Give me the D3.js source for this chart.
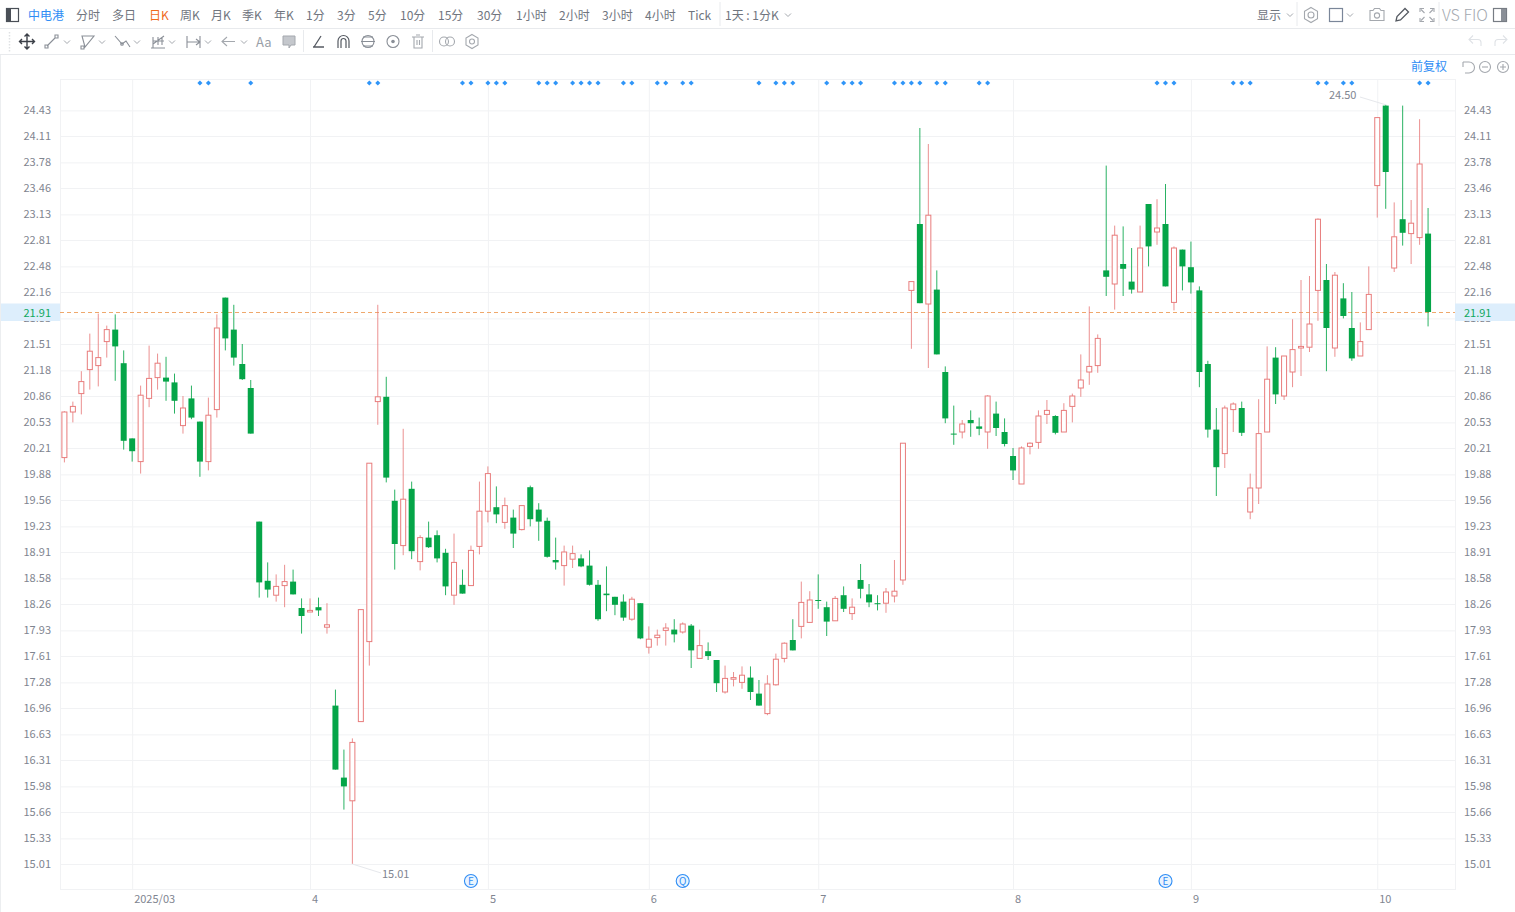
<!DOCTYPE html>
<html><head><meta charset="utf-8">
<script src="https://cdn.jsdelivr.net/npm/d3@7/dist/d3.min.js"></script>
<style>
html,body{margin:0;padding:0;background:#fff;overflow:hidden}
svg{display:block}
text{font-family:"Noto Sans CJK SC","Noto Sans",sans-serif}
</style></head><body>
<svg id="c" width="1515" height="912"></svg>
<script>
const open=[
20.09,20.66,20.89,21.19,21.24,21.54,21.69,21.27,20.33,20.04,
20.83,21.09,21.09,21.03,20.49,20.83,20.54,20.04,20.69,22.09,
21.69,21.26,20.96,19.29,18.55,18.37,18.49,18.54,18.21,18.16,
18.22,17.97,16.99,16.09,15.80,16.79,17.79,20.79,20.85,19.55,
18.99,19.70,18.79,19.09,19.12,18.90,18.37,18.50,18.49,18.98,
19.42,19.47,19.28,19.34,19.19,19.72,19.44,19.30,18.81,18.74,
18.82,18.83,18.74,18.50,18.39,18.35,18.29,18.07,18.27,17.72,
17.84,17.93,17.94,17.91,17.99,17.58,17.67,17.56,17.16,17.32,
17.28,17.34,17.14,16.89,17.25,17.58,17.81,17.98,18.03,18.31,
18.22,18.05,18.37,18.14,18.56,18.38,18.27,18.27,18.36,18.56,
22.18,23.01,22.01,22.19,21.16,20.39,20.41,20.56,20.48,20.41,
20.64,20.41,20.11,19.76,20.23,20.28,20.63,20.61,20.41,20.73,
20.96,21.16,21.24,22.43,22.26,22.51,22.29,22.16,23.26,22.91,
23.01,22.03,22.69,22.47,22.18,21.26,20.44,20.14,20.69,20.71,
19.41,19.71,20.41,21.34,20.86,21.16,21.46,21.47,22.18,22.31,
21.46,22.08,21.71,21.36,21.69,23.49,24.49,22.46,23.07,22.89,
22.84,22.89];
const close=[
20.66,20.73,21.04,21.42,21.34,21.69,21.48,20.30,20.17,20.87,
21.08,21.27,21.04,20.80,20.71,20.59,20.04,20.62,21.71,21.58,
21.34,21.07,20.39,18.53,18.44,18.48,18.54,18.38,18.11,18.18,
18.18,18.00,16.19,15.98,16.53,18.19,20.02,20.85,19.84,19.01,
19.57,18.92,19.09,18.97,18.83,18.48,18.78,18.39,18.93,19.42,
19.89,19.38,19.49,19.14,19.49,19.32,19.29,18.85,18.78,18.91,
18.89,18.73,18.50,18.07,18.37,18.25,18.09,18.32,17.83,17.82,
17.87,17.96,17.88,18.01,17.68,17.74,17.61,17.27,17.33,17.34,
17.37,17.16,16.99,17.26,17.57,17.77,17.68,18.28,18.31,18.30,
18.04,18.33,18.20,18.22,18.45,18.28,18.26,18.41,18.42,20.27,
22.29,22.02,23.12,21.38,20.58,20.38,20.51,20.52,20.45,20.86,
20.46,20.26,19.93,20.21,20.27,20.61,20.68,20.40,20.68,20.86,
21.06,21.23,21.58,22.35,22.87,22.45,22.19,22.71,22.73,22.96,
22.23,22.71,22.48,22.28,21.16,20.44,19.97,20.71,20.76,20.40,
19.71,20.39,21.07,20.88,21.36,21.44,21.48,21.76,23.07,21.71,
22.37,21.86,21.33,21.54,22.13,24.34,23.66,22.85,22.90,23.02,
23.76,21.91];
const high=[
20.67,20.79,21.17,21.64,21.89,21.74,21.88,21.43,20.33,20.99,
21.49,21.39,21.35,21.14,20.86,20.99,20.54,20.84,21.88,22.09,
22.00,21.51,21.06,19.29,18.78,18.63,18.75,18.69,18.33,18.33,
18.34,18.27,17.19,16.44,16.58,18.19,20.02,22.00,21.10,19.69,
20.45,19.79,19.12,19.29,19.18,18.95,19.14,18.69,18.99,19.79,
19.98,19.73,19.59,19.44,19.49,19.74,19.52,19.34,19.09,18.99,
18.99,18.88,18.93,18.56,18.73,18.35,18.38,18.35,18.27,17.98,
17.94,18.02,18.07,18.03,18.01,17.94,17.78,17.56,17.49,17.41,
17.48,17.48,17.31,17.37,17.64,17.78,18.07,18.54,18.42,18.63,
18.29,18.36,18.48,18.33,18.76,18.51,18.37,18.46,18.81,20.27,
22.29,24.21,24.01,22.43,21.23,20.74,20.56,20.68,20.59,20.87,
20.79,20.58,20.21,20.23,20.28,20.68,20.81,20.62,20.77,20.89,
21.38,21.98,21.63,23.74,22.99,22.98,22.71,22.99,23.26,23.32,
23.51,22.73,22.69,22.79,22.23,21.30,20.71,20.74,20.78,20.79,
19.89,20.82,21.48,21.47,21.36,21.82,22.31,22.36,23.08,22.51,
22.41,22.27,22.16,21.78,22.48,24.34,24.50,23.28,24.49,23.31,
24.32,23.21];
const low=[
20.03,20.53,20.63,20.94,20.98,21.34,21.05,20.19,20.04,19.89,
20.72,20.94,20.80,20.64,20.39,20.57,19.85,19.93,20.59,21.43,
21.24,21.06,20.39,18.34,18.34,18.29,18.22,18.38,17.89,18.16,
18.11,17.89,16.19,15.69,15.01,16.79,17.49,20.50,19.78,18.69,
18.87,18.82,18.68,18.96,18.78,18.37,18.25,18.39,18.49,18.88,
19.28,19.27,19.20,18.96,19.18,19.23,19.05,18.84,18.69,18.49,
18.71,18.72,18.49,18.05,18.17,18.12,18.05,18.05,17.82,17.64,
17.74,17.74,17.78,17.89,17.46,17.58,17.56,17.16,17.14,17.23,
17.20,17.06,16.99,16.87,17.24,17.53,17.68,17.83,18.03,18.20,
17.86,18.05,18.16,18.06,18.33,18.22,18.18,18.15,18.28,18.50,
21.45,22.02,21.21,21.38,20.52,20.25,20.33,20.35,20.37,20.20,
20.36,20.23,19.81,19.76,20.13,20.20,20.51,20.38,20.41,20.53,
20.85,21.00,21.15,22.11,21.94,22.11,22.14,22.16,22.48,22.75,
22.23,21.93,22.18,22.14,20.97,20.34,19.61,19.96,20.41,20.36,
19.32,19.51,20.41,20.76,20.81,20.97,21.11,21.41,21.80,21.17,
21.35,21.83,21.30,21.36,21.69,23.09,23.20,22.41,22.74,22.51,
22.75,21.73];
const yTicks=[15.01,15.33,15.66,15.98,16.31,16.63,16.96,17.28,17.61,17.93,18.26,18.58,18.91,19.23,19.56,19.88,20.21,20.53,20.86,21.18,21.51,21.83,22.16,22.48,22.81,23.13,23.46,23.78,24.11,24.43];
const monthIdx=[8,29,50,69,89,112,133,155];
const monthLabels=["2025/03","4","5","6","7","8","9","10"];
const markerIdx=[16,17,22,36,37,47,48,50,51,52,56,57,58,60,61,62,63,66,67,70,71,73,74,82,84,85,86,90,92,93,94,98,99,100,101,103,104,108,109,129,130,131,138,139,140,148,149,151,152,160,161];
const eventIdx=[48,73,130];
const eventLabels=["E","Q","E"];
const lastPrice=21.91, minIdx=34, maxIdx=156;
const periods=["分时","多日","日K","周K","月K","季K","年K","1分","3分","5分","10分","15分","30分","1小时","2小时","3小时","4小时","Tick"];
const periodX=[76,112,149,180,211,242,274,306,337,368,400,438,477,516,559,602,645,688];

const svg=d3.select("#c");
const L=60,R=1455,T=79,B=889;
const x=d3.scaleLinear().domain([0,161]).range([64.4,1428.07]);
const y=d3.scaleLinear().domain([15.01,24.50]).range([864,104.8]);
const GRID="#f1f2f4",LAB="#7f8590",UP="#e87c7c",DN="#05a548",BLUE="#2f8df5";

// frame + grid
svg.append("rect").attr("x",L+.5).attr("y",T+.5).attr("width",R-L).attr("height",B-T).attr("fill","none").attr("stroke",GRID);
const gy=svg.append("g").attr("transform",`translate(${L},0)`).call(d3.axisLeft(y).tickValues(yTicks).tickSizeInner(-(R-L)).tickSizeOuter(0).tickPadding(9).tickFormat(d3.format(".2f")));
gy.select(".domain").remove();gy.selectAll("line").attr("stroke",GRID);
const gr=svg.append("g").attr("transform",`translate(${R},0)`).call(d3.axisRight(y).tickValues(yTicks).tickSize(0).tickPadding(9).tickFormat(d3.format(".2f")));
gr.select(".domain").remove();
const gx=svg.append("g").attr("transform",`translate(0,${B})`).call(d3.axisBottom(x).tickValues(monthIdx).tickSizeInner(-(B-T)).tickSizeOuter(0).tickPadding(6).tickFormat((d,i)=>monthLabels[i]));
gx.select(".domain").remove();gx.selectAll("line").attr("stroke",GRID);
gx.selectAll("text").attr("text-anchor","start").attr("dx",1.5);
svg.selectAll(".tick text").attr("fill",LAB).style("font-size","11px").style("font-family",'"Noto Sans CJK SC",sans-serif');

// current price
svg.append("line").attr("x1",L).attr("x2",R).attr("y1",y(lastPrice)+.5).attr("y2",y(lastPrice)+.5).attr("stroke","#efa86c").attr("stroke-dasharray","4 3");
[[0,L],[R,1515-R]].forEach(([x0,w])=>{
  svg.append("rect").attr("x",x0).attr("y",y(lastPrice)-8.5).attr("width",w).attr("height",17.5).attr("fill","#ddeefc");
  const left=x0===0;
  svg.append("text").attr("x",left?L-9:R+9).attr("y",y(lastPrice)+4.5).attr("text-anchor",left?"end":"start").attr("font-size",11).attr("fill","#10a860").text(lastPrice.toFixed(2));
});

// candles
const idx=d3.range(open.length);
const W=6;
const g=svg.append("g");
g.selectAll("line.w").data(idx).join("line").attr("class","w")
 .attr("x1",i=>x(i)).attr("x2",i=>x(i)).attr("y1",i=>y(high[i])).attr("y2",i=>y(low[i]))
 .attr("stroke",i=>close[i]>=open[i]?UP:DN).attr("stroke-opacity",.85).attr("stroke-width",1);
g.selectAll("rect.b").data(idx).join("rect").attr("class","b")
 .attr("x",i=>x(i)-W/2+(close[i]>=open[i]?.5:0))
 .attr("width",i=>close[i]>=open[i]?W-1:W)
 .attr("y",i=>y(Math.max(open[i],close[i])))
 .attr("height",i=>Math.max(1,Math.abs(y(open[i])-y(close[i]))))
 .attr("fill",i=>close[i]>=open[i]?"#fff":DN)
 .attr("stroke",i=>close[i]>=open[i]?UP:"none").attr("stroke-width",1);

// markers on top
svg.append("g").selectAll("path").data(markerIdx).join("path")
 .attr("d",d3.symbol(d3.symbolSquare,13)).attr("transform",d=>`translate(${x(d)},83) rotate(45)`).attr("fill","#2f95f8");

// events
const ev=svg.append("g").selectAll("g").data(eventIdx).join("g").attr("transform",d=>`translate(${x(d)},881)`);
ev.append("circle").attr("r",6.5).attr("fill","#eaf4fe").attr("stroke",BLUE).attr("stroke-width",1.1);
ev.append("text").attr("text-anchor","middle").attr("y",3.5).attr("font-size",10).attr("fill",BLUE).text((d,i)=>eventLabels[i]);

// min/max notes
const note=(i,v,tx,ty,a,lx,ly)=>{
 svg.append("line").attr("x1",x(i)).attr("y1",y(v)).attr("x2",lx).attr("y2",ly).attr("stroke","#e6e8ec");
 svg.append("text").attr("x",tx).attr("y",ty).attr("font-size",11).attr("fill",LAB).attr("text-anchor",a).text(v.toFixed(2));
};
note(minIdx,low[minIdx],382,878,"start",381,873);
note(maxIdx,high[maxIdx],1329,99,"start",1360,97);

// chrome
const bar=svg.append("g");
[28,54].forEach(v=>bar.append("line").attr("x1",0).attr("x2",1515).attr("y1",v+.5).attr("y2",v+.5).attr("stroke","#e8eaed"));
bar.append("line").attr("x1",.5).attr("x2",.5).attr("y1",55).attr("y2",912).attr("stroke","#eceef0");
[[720,2,26],[1297,2,26],[1439,2,26],[303.5,30,52],[432.5,30,52]].forEach(([a,b,c])=>bar.append("line").attr("x1",a).attr("x2",a).attr("y1",b).attr("y2",c).attr("stroke","#e8eaed"));
const tx=(s,xx,yy,col,fs,a)=>bar.append("text").attr("x",xx).attr("y",yy).attr("fill",col).attr("font-size",fs||12).attr("text-anchor",a||"start").text(s);
tx("中电港",28,19.5,BLUE);
periods.forEach((p,i)=>tx(p,periodX[i],19.5,p==="日K"?"#f06a1d":"#70757e"));
tx("1天 : 1分K",725,19.5,"#70757e");
tx("显示",1257,19.5,"#70757e");
tx("VS FIO",1442,21,"#a4a9b0",16).attr("font-weight",300);
tx("Aa",256,47,"#9aa0a8",13);
tx("前复权",1411,71,BLUE);

const ic=(d,sw,col)=>bar.append("path").attr("d",d).attr("fill","none").attr("stroke",col||"#8a8f97").attr("stroke-width",sw||1.1);
const chev=(cx,cy)=>ic(`M${cx-3},${cy-1.5}L${cx},${cy+1.5}L${cx+3},${cy-1.5}`,1,"#a4a8ae");
const circ=(cx,cy,r,col,f)=>bar.append("circle").attr("cx",cx).attr("cy",cy).attr("r",r).attr("fill",f||"none").attr("stroke",col||"#8a8f97").attr("stroke-width",1.1);
// panel toggles
bar.append("rect").attr("x",6.5).attr("y",8.5).attr("width",12).attr("height",13).attr("fill","none").attr("stroke","#4a4f57").attr("stroke-width",1.2);
bar.append("rect").attr("x",7).attr("y",9).attr("width",4).attr("height",12).attr("fill","#4a4f57");
bar.append("rect").attr("x",1493.5).attr("y",8.5).attr("width",13).attr("height",13).attr("fill","none").attr("stroke","#777c84").attr("stroke-width",1.2);
bar.append("rect").attr("x",1501).attr("y",9).attr("width",5).attr("height",12).attr("fill","#8a8f97");
// grip
ic("M9.5,32V52",1.5,"#dfe1e4").attr("stroke-dasharray","1.5 1.5");
// row 2 icons
ic("M27,34V49M19.5,41.5H34.5M24.5,36.5L27,34L29.5,36.5M24.5,46.5L27,49L29.5,46.5M22,39L19.5,41.5L22,44M32,39L34.5,41.5L32,44",1.4,"#3c4048");
ic("M47,46L55,38M45,45h3v3h-3zM55,35h3v3h-3z");
ic("M82,36H94L85,47ZM81,46h3v3h-3z");
ic("M115,36L122,44L126,41L130,47");circ(122,44,1.3);
ic("M151,48H165M153,37V48M153,44L164,36M158,37v8M162,37v8M153,41h11");
ic("M187,36V48M200,36V48M187,42H200M196,39L200,42L196,45");
ic("M222,41.5H235M227,37L222,41.5L227,46",1.1,"#a4a8ae");
bar.append("path").attr("d","M283,36H295V45H291L289,48V45H283Z").attr("fill","#c4c7cc").attr("stroke","#a4a8ae");
ic("M313,47H324M314,47L321,36",1.3,"#555a62");
ic("M338,48V41a5.5,5.5,0,0,1,11,0V48M341,48V41a2.5,2.5,0,0,1,5,0V48",1.2,"#555a62");
circ(368,41.5,6);ic("M361,41.5H375M363,37H373M363,46H373");
circ(393,41.5,6);bar.append("circle").attr("cx",393).attr("cy",41.5).attr("r",1.8).attr("fill","#8a8f97");
ic("M412,37H424M414,37V48H422V37M416,35H420M417,40V45M419.5,40V45",1.1,"#a4a8ae");
circ(444,41.5,4.5,"#a4a8ae");circ(450,41.5,4.5,"#a4a8ae");
ic("M472,34.5L478,38V45L472,48.5L466,45V38Z",1.1,"#a4a8ae");circ(472,41.5,2.5,"#a4a8ae");
[67,102,137,172,208,244].forEach(c=>chev(c,42));
[788,1290,1350].forEach(c=>chev(c,15));
// top right icons
ic("M1311,7.5L1317.5,11.2V18.8L1311,22.5L1304.5,18.8V11.2Z",1.1,"#a4a8ae");circ(1311,15,3,"#a4a8ae");
bar.append("rect").attr("x",1329.5).attr("y",8.5).attr("width",13).attr("height",13).attr("fill","none").attr("stroke","#7a8699").attr("stroke-width",1.2);
ic("M1370,10.5H1373L1374.5,8.5H1379.5L1381,10.5H1384V20.5H1370Z",1.1,"#a4a8ae");circ(1377,15.5,2.6,"#a4a8ae");
ic("M1396,21L1397,16.5L1405,8.5L1408.5,12L1400.5,20Z",1.3,"#555a62");
ic("M1420,12V8.5H1424M1434,12V8.5H1430M1420,18V21.5H1424M1434,18V21.5H1430M1421,9.5L1424.5,13M1433,9.5L1429.5,13M1421,20.5L1424.5,17M1433,20.5L1429.5,17",1.1,"#a4a8ae");
// undo / redo
ic("M1481,46V42.5a3,3,0,0,0,-3,-3H1469M1473,35.5L1469,39.5L1473,43.5",1.1,"#dfe2e6");
ic("M1495,46V42.5a3,3,0,0,1,3,-3H1507M1503,35.5L1507,39.5L1503,43.5",1.1,"#dfe2e6");
// zoom tools
ic("M1463,62H1469a5.5,5.5,0,0,1,0,11H1465M1463,62L1463,67",1.1,"#a4a8ae");
circ(1485,67,5.5,"#a4a8ae");ic("M1482,67H1488",1.1,"#a4a8ae");
circ(1503,67,5.5,"#a4a8ae");ic("M1500,67H1506M1503,64V70",1.1,"#a4a8ae");
</script>
</body></html>
